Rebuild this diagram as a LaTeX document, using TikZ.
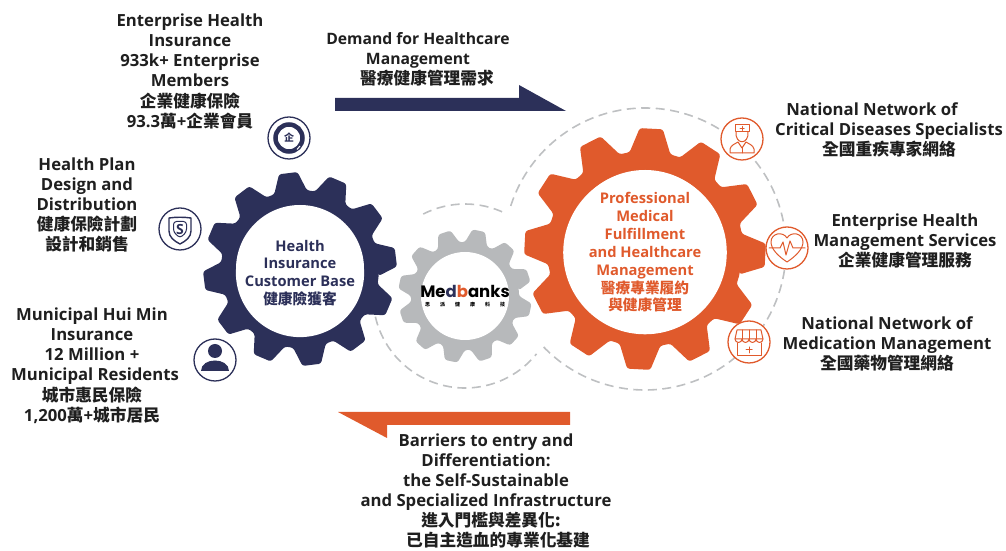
\documentclass[tikz,border=0pt]{standalone}
\usepackage{fontspec}
\setmainfont{Open Sans}
\newfontfamily\cjk{Noto Sans CJK TC}
\newfontfamily\logofont{Poppins}
\newcommand{\zh}[1]{{\cjk\bfseries #1}}
\definecolor{navy}{HTML}{2C3059}
\definecolor{rust}{HTML}{E05A2C}
\definecolor{steel}{HTML}{B7B9BB}
\definecolor{dashgray}{HTML}{BEC0C2}
\definecolor{ink}{HTML}{1F1F1F}

% gear: x, y, root radius, tip radius, first tooth angle, colour
\newcommand{\drawgear}[6]{
\fill[#6, rounded corners=2.5pt, shift={(#1,#2)}] ({#5-12}:#3)
  \foreach \toothangle in {0,30,...,330} {
    -- ({#5+\toothangle-12}:#3) -- ({#5+\toothangle-5.5}:#4)
    -- ({#5+\toothangle+5.5}:#4) -- ({#5+\toothangle+12}:#3)
  } -- cycle;
}

\tikzset{
  caption/.style={font=\fontsize{16.7}{20}\selectfont\bfseries, text=ink, align=center, inner sep=0pt},
  hub/.style={circle, fill=white, inner sep=0pt, align=center, font=\fontsize{14.7}{17.8}\selectfont\bfseries},
  ring/.style={circle, fill=white, draw=#1, line width=1.3pt, minimum size=42pt, inner sep=0pt},
  orbit/.style={dashgray, line width=1.6pt, dash pattern=on 9pt off 5.5pt},
  glyph/.style={#1, line width=1pt, line join=round, line cap=round}
}

\begin{document}
\begin{tikzpicture}[x=1pt,y=1pt]
\useasboundingbox (0,0) rectangle (1006,551);

% Dashed orbits
\draw[orbit] (645,302) ++(-136:141) arc[start angle=-136, end angle=163, radius=141];
\draw[orbit] (465,255) ++(193:92) arc[start angle=193, end angle=321, radius=92];
\draw[orbit] (465,255) ++(117:92) arc[start angle=117, end angle=64, radius=92];

% Gears
\drawgear{300}{282}{79}{97}{7}{navy}
\drawgear{465}{255}{54}{67}{18}{steel}
\drawgear{645}{302}{98}{121}{-3}{rust}

% Gear centres
\node[hub, minimum size=128pt, text=navy] (healthhub) at (300,282) {};
\node[hub, text=navy] (healthtext) at (300,278) {Health\\Insurance\\Customer Base\\\zh{健康險獲客}};
\node[hub, minimum size=88pt] (medhub) at (465,255) {};
\node[font=\logofont\fontsize{16.5}{20}\selectfont\bfseries, inner sep=0pt] (medlogo) at (465,260) {Me\textcolor{navy}{d}\textcolor{rust}{b}anks};
\node[font=\fontsize{5}{6}\selectfont, inner sep=0pt] (medsub) at (465,246) {\zh{思\hspace{10pt}派\hspace{10pt}健\hspace{10pt}康\hspace{10pt}科\hspace{10pt}技}};
\node[hub, minimum size=158pt] (carehub) at (645,302) {};
\node[hub, text=rust] (caretext) at (645,298.5) {Professional\\Medical\\Fulfillment\\and Healthcare\\Management\\\zh{醫療專業履約}\\\zh{與健康管理}};

% Arrows
\fill[navy] (335,453) -- (519,453) -- (519,466) -- (566,440) -- (335,440) -- cycle;
\fill[rust] (570,139) -- (338,139) -- (387,113) -- (387,126) -- (570,126) -- cycle;

% Navy icons
\node[ring=navy] (companyicon) at (289,413) {};
\draw[navy, line width=4.5pt] (289,413) circle (13.5pt);
\draw[white, line width=1pt] (297,401.5) -- (300,405);
\node[text=navy, font=\fontsize{10}{10}\selectfont, inner sep=0pt] (companytext) at (289,413) {\zh{企}};

\node[ring=navy] (shieldicon) at (180,322) {};
\draw[glyph=navy, line width=1.4pt] (169,333) .. controls (176,334) and (184,334) .. (191,333)
  -- (191,320) .. controls (191,314) and (186,310) .. (180,307)
  .. controls (174,310) and (169,314) .. (169,320) -- cycle;
\draw[glyph=navy, rounded corners=3pt] (173.5,329.5) -- (186.5,329.5) -- (186.5,319) -- (180,313) -- (173.5,319) -- cycle;
\node[text=navy, font=\fontsize{14}{14}\selectfont\bfseries, inner sep=0pt] (shieldtext) at (180,321) {S};

\node[ring=navy] (personicon) at (215,191) {};
\fill[navy] (215,200) circle (7pt);
\fill[navy] (201,180) .. controls (201,194) and (229,194) .. (229,180) -- cycle;

% Orange icons
\node[ring=rust] (doctoricon) at (742,412) {};
\draw[glyph=rust] (735,426) rectangle (749,419);
\draw[glyph=rust] (742,424.5) -- (742,420.5) (740,422.5) -- (744,422.5);
\draw[glyph=rust] (736,419) .. controls (735,406) and (749,406) .. (748,419);
\draw[glyph=rust] (730,398) -- (730,402) .. controls (731,406) and (735,407) .. (738,409) -- (742,403) -- (746,409)
  .. controls (749,407) and (753,406) .. (754,402) -- (754,398) -- cycle;
\draw[glyph=rust] (742,403) -- (742,398);

\node[ring=rust] (hearticon) at (787,303) {};
\draw[glyph=rust] (787,289) .. controls (778,295) and (771,302) .. (771,309)
  .. controls (771,318) and (783,320) .. (787,313)
  .. controls (791,320) and (803,318) .. (803,309)
  .. controls (803,302) and (796,295) .. (787,289) -- cycle;
\draw[glyph=rust] (769,303) -- (780,303) -- (783,309) -- (786,296) -- (790,310) -- (793,303) -- (805,303);

\node[ring=rust] (storeicon) at (749,209) {};
\draw[glyph=rust] (737,221) -- (761,221) -- (763,212) -- (735,212) -- cycle;
\draw[glyph=rust] (735,212) arc[start angle=180, end angle=360, radius=3.5]
  arc[start angle=180, end angle=360, radius=3.5]
  arc[start angle=180, end angle=360, radius=3.5]
  arc[start angle=180, end angle=360, radius=3.5];
\draw[glyph=rust] (742,221) -- (742,212) (749,221) -- (749,212) (756,221) -- (756,212);
\draw[glyph=rust] (737,208) -- (737,195) -- (761,195) -- (761,208);
\draw[glyph=rust] (749,204) -- (749,198) (746,201) -- (752,201);

% Captions left
\node[caption] (enterprisetext) at (190,480) {Enterprise Health\\Insurance\\933k+ Enterprise\hspace*{6pt}\\Members\hspace*{14pt}\\[1pt]\zh{企業健康保險}\\93.3\zh{萬}+\zh{企業會員}};
\node[caption] (plantext) at (87,346) {Health Plan\\Design and\\Distribution\\\zh{健康保險計劃}\\\zh{設計和銷售}};
\node[caption] (huimintext) at (92,185) {Municipal Hui Min\\Insurance\\12 Million +\\\hspace*{6pt}Municipal Residents\\[1pt]\zh{城市惠民保險}\\1,200\zh{萬}+\zh{城市居民}};

% Captions top and bottom
\node[caption, font=\fontsize{15.7}{20}\selectfont\bfseries] (demandtext) at (418,492) {Demand for Healthcare\\Management\\\hspace*{18pt}\zh{\fontsize{16.7}{20}\selectfont 醫療健康管理需求}};
\node[caption] (barriertext) at (486,60) {Barriers to entry and\\Differentiation:\\the Self-Sustainable\\and Specialized Infrastructure\\\hspace*{10pt}\zh{進入門檻與差異化:}\\\hspace*{24pt}\zh{已自主造血的專業化基建}};

% Captions right
\node[caption] (specialisttext) at (889,421) {National Network of\hspace*{34pt}\\Critical Diseases Specialists\\\zh{全國重疾專家網絡}};
\node[caption] (servicetext) at (905,310) {Enterprise Health\\Management Services\\\zh{企業健康管理服務}};
\node[caption] (medicationtext) at (887,207) {National Network of\\Medication Management\\\zh{全國藥物管理網絡}};
\end{tikzpicture}
\end{document}
